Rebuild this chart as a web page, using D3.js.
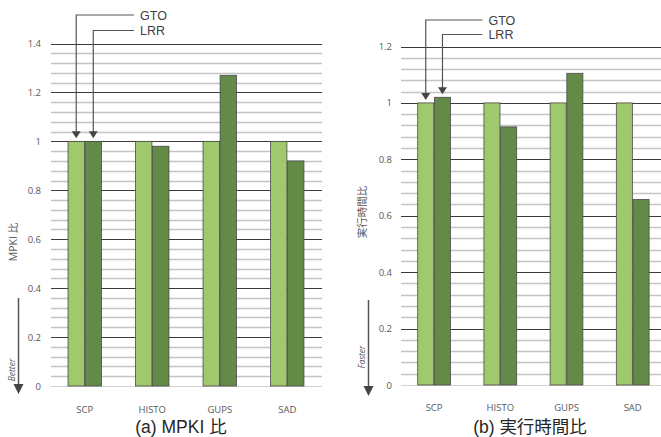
<!DOCTYPE html>
<html><head><meta charset="utf-8">
<script src="https://cdn.jsdelivr.net/npm/d3@7"></script>
<style>
body{margin:0;background:#fff;}
svg{display:block;}
</style></head>
<body>
<svg id="chart" width="661" height="437"></svg>
<script>
const categories = ["SCP","HISTO","GUPS","SAD"];
const seriesNames = ["GTO","LRR"];
const mpkiGTO = [1, 1, 1, 1];
const mpkiLRR = [1, 0.98, 1.27, 0.92];
const timeGTO = [1, 1, 1, 1];
const timeLRR = [1.02, 0.915, 1.105, 0.658];
const mpkiTicks = [0, 0.2, 0.4, 0.6, 0.8, 1, 1.2, 1.4];
const timeTicks = [0, 0.2, 0.4, 0.6, 0.8, 1, 1.2];

const svg = d3.select("#chart");
const colors = ["#a0c86c", "#648a48"];
const jpFont = "'Liberation Sans','Noto Sans CJK JP',sans-serif";
const tickFont = "'Open Sans','Noto Sans CJK JP',sans-serif";

function panel(cfg){
  const g = svg.append("g");
  const y = d3.scaleLinear().domain([0, cfg.max]).range([cfg.y0, cfg.y1]);
  const x = d3.scaleBand().domain(categories).range([cfg.x0, cfg.x1]).padding(0);
  const bw = x.bandwidth();
  const grp = bw * 0.495;
  const xs = d3.scaleBand().domain(seriesNames).range([bw/2 - grp/2, bw/2 + grp/2]).paddingInner(0.04);

  // minor grid
  const minor = d3.range(0, Math.round(cfg.max/0.04) + 1).map(i => i*0.04);
  g.append("g").selectAll("line").data(minor.filter((v,i)=> i % 5 !== 0)).join("line")
    .attr("x1", cfg.gx0).attr("x2", cfg.gx1)
    .attr("y1", d => Math.round(y(d))+0.5).attr("y2", d => Math.round(y(d))+0.5)
    .attr("stroke", "#c4c4c4").attr("stroke-width", 1.3);
  // major grid
  g.append("g").selectAll("line").data(cfg.ticks).join("line")
    .attr("x1", cfg.gx0).attr("x2", cfg.gx1)
    .attr("y1", d => Math.round(y(d))+0.5).attr("y2", d => Math.round(y(d))+0.5)
    .attr("stroke", d => d === 0 ? "#d0d0d0" : "#3a3a3a").attr("stroke-width", 1);

  // y axis labels via d3 axis
  const ax = d3.axisLeft(y).tickValues(cfg.ticks).tickSize(0).tickPadding(0)
    .tickFormat(d => d === 0 ? "0" : (d === 1 ? "1" : d3.format(".1f")(d)));
  const axg = g.append("g").attr("transform", `translate(${cfg.labelX},0)`).call(ax);
  axg.select(".domain").remove();
  axg.selectAll("text").attr("fill", "#595959").attr("font-size", 9.5).attr("font-family", tickFont);

  // bars
  const data = [];
  categories.forEach((c,i) => {
    data.push({c, s: "GTO", v: cfg.a[i]});
    data.push({c, s: "LRR", v: cfg.b[i]});
  });
  g.append("g").selectAll("rect").data(data).join("rect")
    .attr("x", d => x(d.c) + xs(d.s))
    .attr("width", xs.bandwidth())
    .attr("y", d => y(d.v))
    .attr("height", d => y(0) - y(d.v))
    .attr("fill", d => colors[seriesNames.indexOf(d.s)])
    .attr("stroke", "#4a4a4a").attr("stroke-width", 0.8);

  // category labels via axis
  const bx = d3.axisBottom(x).tickSize(0).tickPadding(0);
  const bxg = g.append("g").attr("transform", `translate(0,${cfg.catY})`).call(bx);
  bxg.select(".domain").remove();
  bxg.selectAll("text").attr("fill", "#595959").attr("font-size", 9.5).attr("font-family", tickFont);

  // annotations GTO/LRR
  const lineEnd = x(categories[0]) + bw * 1.23;
  const markers = [
    {s: "GTO", ly: cfg.gtoY, v: cfg.a[0]},
    {s: "LRR", ly: cfg.lrrY, v: cfg.b[0]}
  ];
  markers.forEach(m => {
    const cx = x(categories[0]) + xs(m.s) + xs.bandwidth()/2;
    const tip = y(m.v) - 3;
    g.append("path")
      .attr("d", `M${lineEnd},${m.ly}H${cx}V${tip - 5}`)
      .attr("fill", "none").attr("stroke", "#555").attr("stroke-width", 1.2);
    g.append("path")
      .attr("d", `M${cx-4.5},${tip-7}L${cx+4.5},${tip-7}L${cx},${tip}Z`)
      .attr("fill", "#444");
    g.append("text").attr("x", lineEnd + 6).attr("y", m.ly + 4.5)
      .attr("font-size", 12.5).attr("font-family", jpFont).attr("fill", "#404040").text(m.s);
  });

  // y-axis title
  g.append("text")
    .attr("transform", `translate(${cfg.ytX},${cfg.ytY}) rotate(-90)`)
    .attr("text-anchor", "middle").attr("font-size", 10.5).attr("font-family", tickFont)
    .attr("fill", "#595959").text(cfg.yTitle);

  // direction arrow
  g.append("line").attr("x1", cfg.arX).attr("x2", cfg.arX).attr("y1", cfg.arTop).attr("y2", cfg.arTip - 8)
    .attr("stroke", "#555").attr("stroke-width", 1.5);
  g.append("path").attr("d", `M${cfg.arX-5},${cfg.arTip-10}L${cfg.arX+5},${cfg.arTip-10}L${cfg.arX},${cfg.arTip}Z`)
    .attr("fill", "#444");
  g.append("text")
    .attr("transform", `translate(${cfg.arX - 4},${cfg.arLabelY}) rotate(-90)`)
    .attr("text-anchor", "middle").attr("font-size", 8.5).attr("font-style", "italic")
    .attr("font-family", tickFont).attr("fill", "#595959").text(cfg.arLabel);

  // panel title
  g.append("text").attr("x", cfg.titleX).attr("y", cfg.titleY)
    .attr("text-anchor", "middle").attr("font-size", 17.5).attr("font-family", jpFont)
    .attr("fill", "#262626").text(cfg.title);
}

panel({
  max: 1.4, ticks: mpkiTicks, a: mpkiGTO, b: mpkiLRR,
  y0: 386, y1: 43.5, x0: 51, x1: 321, gx0: 51, gx1: 322,
  labelX: 41, catY: 406, gtoY: 15, lrrY: 30.5,
  yTitle: "MPKI 比", ytX: 17, ytY: 242,
  arX: 18.5, arTop: 298, arTip: 394, arLabel: "Better", arLabelY: 370,
  title: "(a) MPKI 比", titleX: 181, titleY: 433
});
panel({
  max: 1.2, ticks: timeTicks, a: timeGTO, b: timeLRR,
  y0: 385, y1: 46.5, x0: 401, x1: 665.8, gx0: 401, gx1: 661,
  labelX: 392, catY: 404, gtoY: 20, lrrY: 34.5,
  yTitle: "実行時間比", ytX: 366, ytY: 212,
  arX: 368.5, arTop: 300, arTip: 396, arLabel: "Faster", arLabelY: 357,
  title: "(b) 実行時間比", titleX: 530, titleY: 433
});
</script>
</body></html>
